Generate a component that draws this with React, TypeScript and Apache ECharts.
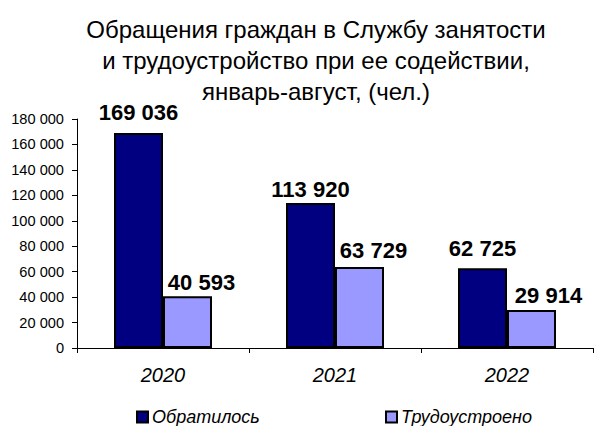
import React, { useEffect, useRef } from "react";
import * as echarts from "echarts";

const categories = ["2020", "2021", "2022"];
const appliedValues = [169036, 113920, 62725];
const employedValues = [40593, 63729, 29914];
const seriesNames = ["Обратилось", "Трудоустроено"];
const titleLines = [
  "Обращения граждан в Службу занятости",
  "и трудоустройство при ее содействии,",
  "январь-август, (чел.)",
];

const fmt = (v: number) => String(v).replace(/\B(?=(\d{3})+(?!\d))/g, " ");

export default function App() {
  const ref = useRef<HTMLDivElement>(null);
  useEffect(() => {
    if (!ref.current) return;
    const chart = echarts.init(ref.current, null, { renderer: "svg" });
    const darkOffsets = [[0, -6], [0, 0], [0, -6]];
    const lightOffsets = [[14, 0], [14, -2], [17, 0]];
    const labelBase = {
      show: true,
      position: "top",
      distance: 3,
      fontFamily: "Arial, Liberation Sans",
      fontWeight: "bold",
      fontSize: 22,
      color: "#000",
      formatter: (p: any) => fmt(p.value),
    };
    const legendText = {
      fontFamily: "Arial, Liberation Sans",
      fontStyle: "italic",
      fontSize: 18,
      color: "#000",
      padding: [0, 0, 0, -1],
    };
    chart.setOption({
      animation: false,
      backgroundColor: "#fff",
      title: {
        text: titleLines.join("\n"),
        left: 316,
        top: 14,
        padding: 0,
        textAlign: "center",
        textStyle: {
          fontFamily: "Arial, Liberation Sans",
          fontWeight: "normal",
          fontSize: 24,
          lineHeight: 31,
          color: "#000",
        },
      },
      legend: [
        {
          data: [seriesNames[0]],
          left: 131,
          top: 403,
          icon: "rect",
          itemWidth: 11,
          itemHeight: 11,
          itemGap: 4,
          textStyle: legendText,
        },
        {
          data: [seriesNames[1]],
          left: 380,
          top: 403,
          icon: "rect",
          itemWidth: 11,
          itemHeight: 11,
          itemGap: 4,
          textStyle: legendText,
        },
      ],
      grid: { left: 77, right: 2, top: 119, bottom: 78, containLabel: false },
      xAxis: {
        type: "category",
        data: categories,
        axisLine: { show: true, lineStyle: { color: "#000", width: 1 } },
        axisTick: { show: true, length: 5, lineStyle: { color: "#000" } },
        axisLabel: {
          fontFamily: "Arial, Liberation Sans",
          fontStyle: "italic",
          fontSize: 20,
          color: "#000",
          margin: 17,
        },
      },
      yAxis: {
        type: "value",
        min: 0,
        max: 180000,
        interval: 20000,
        splitLine: { show: false },
        axisLine: { show: true, lineStyle: { color: "#000", width: 1 } },
        axisTick: { show: true, length: 5, lineStyle: { color: "#000" } },
        axisLabel: {
          fontFamily: "Arial, Liberation Sans",
          fontSize: 14.6,
          color: "#000",
          margin: 13,
          formatter: (v: number) => fmt(v),
        },
      },
      series: [
        {
          name: seriesNames[0],
          type: "bar",
          barWidth: 49,
          barGap: "0%",
          itemStyle: { color: "#000080", borderColor: "#000", borderWidth: 2 },
          data: appliedValues.map((v, i) => ({ value: v, label: { offset: darkOffsets[i] } })),
          label: labelBase,
        },
        {
          name: seriesNames[1],
          type: "bar",
          barWidth: 49,
          barGap: "0%",
          itemStyle: { color: "#9999FF", borderColor: "#000", borderWidth: 2 },
          data: employedValues.map((v, i) => ({ value: v, label: { offset: lightOffsets[i] } })),
          label: labelBase,
        },
      ],
    });
    return () => chart.dispose();
  }, []);
  return <div ref={ref} style={{ width: 595, height: 426, position: "absolute", left: 0, top: 0 }} />;
}
